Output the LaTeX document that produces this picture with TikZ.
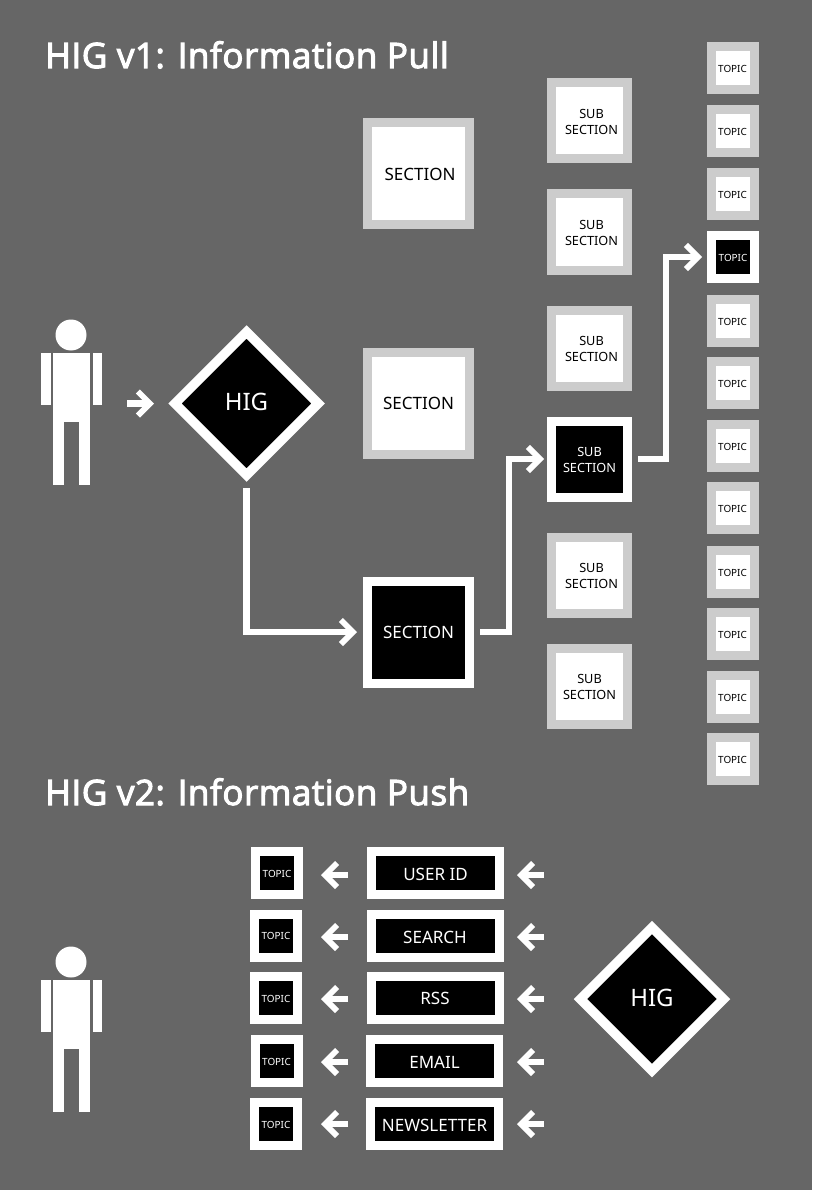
\documentclass[tikz,border=0pt]{standalone}
\usepackage{fontspec}
\setmainfont{Noto Sans}
\newfontfamily\headfont{Open Sans}[FakeBold=3,LetterSpace=1.5]
\usetikzlibrary{arrows.meta,shapes.geometric}
\definecolor{bgc}{HTML}{666666}
\definecolor{pale}{HTML}{CCCCCC}
\tikzset{
  x=1pt,y=-1pt,
  boxbase/.style={rectangle,line width=9pt,inner sep=0pt,align=center},
  soft/.style={boxbase,draw=pale,fill=white,text=black},
  hot/.style={boxbase,draw=white,fill=black,text=white},
  sectfont/.style={font=\fontsize{17}{20}\selectfont},
  secbox/.style={minimum width=102pt,minimum height=102pt,sectfont},
  subbox/.style={minimum width=76pt,minimum height=76pt,text height=26.7pt,text depth=0pt,font=\fontsize{12.7}{15.5}\selectfont},
  topicbox/.style={minimum width=43pt,minimum height=43pt,text height=8.1pt,text depth=0pt,font=\fontsize{9.9}{12}\selectfont},
  chanbox/.style={hot,minimum width=128pt,minimum height=43pt,text height=15pt,text depth=0pt,sectfont},
  higbox/.style={diamond,aspect=1,draw=white,fill=black,text=white,line width=9.5pt,inner sep=0pt,minimum width=147pt,minimum height=147pt,text height=17pt,text depth=3pt,font=\fontsize{24}{28}\selectfont},
  heading/.style={anchor=base west,inner sep=0pt,text=white,font=\fontsize{35}{40}\selectfont\headfont},
  conn/.style={white,line width=6.5pt,line join=miter,-{Straight Barb[length=12pt,width=24pt,line width=5.8pt]}},
}
\newcommand{\person}[1]{%
  \begin{scope}[yshift=#1]
    \fill[white] (71,335) circle[radius=15.5];
    \fill[white] (53.3,353) rectangle (90,484.5);
    \fill[bgc] (64.3,422) rectangle (79,485);
    \fill[white] (41.3,353) rectangle (50.7,405);
    \fill[white] (92.7,353) rectangle (101.7,405);
  \end{scope}}
\begin{document}
\begin{tikzpicture}
\useasboundingbox (0,0) rectangle (812,1190);
\fill[bgc] (0,0) rectangle (812,1190);

\node[heading] (t1) at (45,68) {HIG v1: Information Pull};
\node[heading] (t2) at (45,805) {HIG v2: Information Push};

\person{0pt}
\person{-627pt}

\node[higbox] (hig1) at (246.5,403.5) {HIG};
\node[higbox] (hig2) at (652,999) {HIG};

\node[soft,secbox,text height=14pt,text depth=0pt] (sec1) at (418.5,174) {\hspace{3pt}SECTION};
\node[soft,secbox] (sec2) at (418.5,403) {SECTION};
\node[hot,secbox]  (sec3) at (418.5,632) {SECTION};

\node[soft,subbox] (sub1) at (589.5,121)  {\hspace{4pt}SUB\\\hspace{4pt}SECTION};
\node[soft,subbox] (sub2) at (589.5,232)  {\hspace{4pt}SUB\\\hspace{4pt}SECTION};
\node[soft,subbox] (sub3) at (589.5,348)  {\hspace{4pt}SUB\\\hspace{4pt}SECTION};
\node[hot,subbox]  (sub4) at (589.5,459)  {SUB\\SECTION};
\node[soft,subbox] (sub5) at (589.5,575)  {\hspace{4pt}SUB\\\hspace{4pt}SECTION};
\node[soft,subbox] (sub6) at (589.5,686)  {SUB\\SECTION};

\node[soft,topicbox] (top1)  at (732.5,68)  {TOPIC};
\node[soft,topicbox] (top2)  at (732.5,131) {TOPIC};
\node[soft,topicbox] (top3)  at (732.5,194) {TOPIC};
\node[hot,topicbox]  (top4)  at (733,257)   {TOPIC};
\node[soft,topicbox] (top5)  at (732.5,321) {TOPIC};
\node[soft,topicbox] (top6)  at (732.5,383) {TOPIC};
\node[soft,topicbox] (top7)  at (732.5,446) {TOPIC};
\node[soft,topicbox] (top8)  at (732.5,508) {TOPIC};
\node[soft,topicbox] (top9)  at (732.5,572) {TOPIC};
\node[soft,topicbox] (top10) at (732.5,634) {TOPIC};
\node[soft,topicbox] (top11) at (732.5,697) {TOPIC};
\node[soft,topicbox] (top12) at (732.5,759) {TOPIC};

\node[hot,topicbox] (ta) at (277,873)   {TOPIC};
\node[hot,topicbox] (tb) at (276,935.5) {TOPIC};
\node[hot,topicbox] (tc) at (276,998)   {TOPIC};
\node[hot,topicbox] (td) at (276.5,1061) {TOPIC};
\node[hot,topicbox] (te) at (276,1124)  {TOPIC};

\node[chanbox] (ca) at (435.5,873)  {USER ID};
\node[chanbox] (cb) at (435,935.5)  {SEARCH};
\node[chanbox,text height=13pt] (cc) at (435,998)    {RSS};
\node[chanbox] (cd) at (434.5,1061) {EMAIL};
\node[chanbox] (ce) at (434.5,1124) {NEWSLETTER};

% v1 connectors
\coordinate (pa) at (127,403.5);
\coordinate (pb) at (154,403.5);
\draw[conn] (pa) -- (pb);
\draw[conn,shorten <=6pt,shorten >=6pt] (hig1.south) |- (sec3.west);
\coordinate (j1) at (509,545);
\draw[conn,shorten <=6pt,shorten >=3pt] (sec3.east) -| (j1) |- (sub4.west);
\coordinate (j2) at (666,360);
\draw[conn,shorten <=6pt,shorten >=5pt] (sub4.east) -| (j2) |- (top4.west);

% v2 connectors
\foreach \b/\t/\y in {ca/ta/875,cb/tb/937,cc/tc/999,cd/td/1062,ce/te/1124}{
  \coordinate (bk\b) at (348,\y);
  \coordinate (tp\b) at (321,\y);
  \draw[conn] (bk\b) -- (tp\b);
  \coordinate (rb\b) at (544,\y);
  \coordinate (rt\b) at (517,\y);
  \draw[conn] (rb\b) -- (rt\b);
}
\end{tikzpicture}
\end{document}
